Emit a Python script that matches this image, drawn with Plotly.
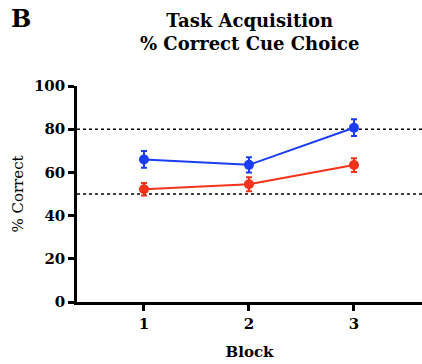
import plotly.graph_objects as go

blocks = [1, 2, 3]
blue_mean = [66.0, 63.5, 80.7]
blue_sem = [3.9, 3.5, 3.9]
red_mean = [52.2, 54.5, 63.4]
red_sem = [2.9, 3.2, 3.2]
reference_levels = [80, 50]
y_ticks = [0, 20, 40, 60, 80, 100]

SERIF = "Book Antiqua, Palatino Linotype, DejaVu Serif, serif"

fig = go.Figure()

for lvl in reference_levels:
    fig.add_shape(type="line", xref="paper", yref="y", x0=0, x1=1, y0=lvl, y1=lvl,
                  line=dict(color="black", width=1.6, dash="dot"), layer="below")

for mean, sem, color in [(blue_mean, blue_sem, "#1a3cf5"), (red_mean, red_sem, "#f5321a")]:
    fig.add_trace(go.Scatter(
        x=blocks, y=mean, mode="lines+markers",
        line=dict(color=color, width=2),
        marker=dict(color=color, size=10, symbol="circle"),
        error_y=dict(type="data", array=sem, color=color, thickness=2, width=3),
        showlegend=False,
    ))

fig.update_layout(
    width=422, height=364,
    margin=dict(l=77, r=0, t=86, b=62),
    plot_bgcolor="white", paper_bgcolor="white",
    font=dict(family=SERIF, color="black"),
)

fig.update_xaxes(
    range=[0.362, 3.648], tickvals=blocks, ticktext=[str(b) for b in blocks],
    showline=True, linecolor="black", linewidth=2.5,
    ticks="outside", ticklen=6, tickwidth=2.5, tickcolor="black",
    showgrid=False, zeroline=False,
    tickfont=dict(family=SERIF, size=15, color="black", weight="bold"),
    title=dict(text="Block", font=dict(family=SERIF, size=15, weight="bold"), standoff=15),
)
fig.update_yaxes(
    range=[0, 100], tickvals=y_ticks,
    showline=True, linecolor="black", linewidth=2.5,
    ticks="outside", ticklen=6, tickwidth=2.5, tickcolor="black",
    showgrid=False, zeroline=False,
    tickfont=dict(family=SERIF, size=15, color="black", weight="bold"),
    title=dict(text="% Correct", font=dict(family=SERIF, size=15), standoff=7),
)

fig.add_annotation(text="<b>Task Acquisition</b><br><b>% Correct Cue Choice</b>",
                   xref="paper", yref="paper", x=0.5, y=1.0, yshift=78,
                   xanchor="center", yanchor="top", showarrow=False,
                   font=dict(family=SERIF, size=18, color="black"), align="center")
fig.add_annotation(text="<b>B</b>", xref="paper", yref="paper", x=-0.197, y=1.0, yshift=84,
                   xanchor="left", yanchor="top", showarrow=False,
                   font=dict(family=SERIF, size=24, color="black"))

fig.write_html("out.html")
